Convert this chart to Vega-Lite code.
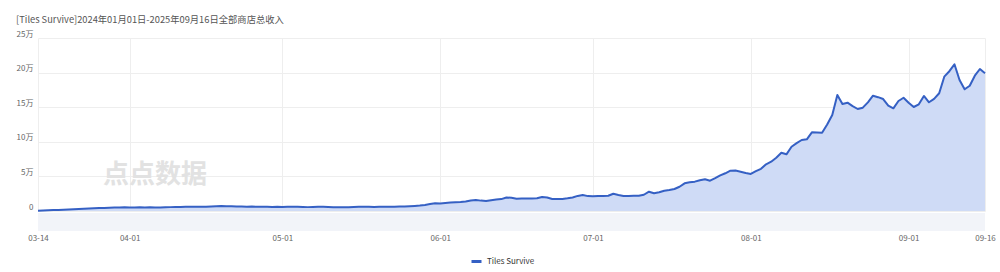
{
  "$schema": "https://vega.github.io/schema/vega-lite/v6.json",
  "background": "white",
  "padding": {"left": 16, "top": 15, "right": 5, "bottom": 5},
  "config": {"font": "Noto Sans CJK SC", "view": {"stroke": null}},
  "title": {"text": "[Tiles Survive]2024年01月01日-2025年09月16日全部商店总收入", "anchor": "start", "frame": "bounds", "fontSize": 9.3, "fontWeight": "normal", "color": "#555555", "offset": 5},
  "data": {"values": [
    {"date":"2025-03-14","value":500},{"date":"2025-03-15","value":800},{"date":"2025-03-16","value":1000},{"date":"2025-03-17","value":1300},{"date":"2025-03-18","value":1500},{"date":"2025-03-19","value":1800},{"date":"2025-03-20","value":2200},{"date":"2025-03-21","value":2500},{"date":"2025-03-22","value":2900},{"date":"2025-03-23","value":3200},{"date":"2025-03-24","value":3500},{"date":"2025-03-25","value":3900},{"date":"2025-03-26","value":4200},{"date":"2025-03-27","value":4400},{"date":"2025-03-28","value":4800},{"date":"2025-03-29","value":5100},{"date":"2025-03-30","value":5000},{"date":"2025-03-31","value":5300},
    {"date":"2025-04-01","value":5200},{"date":"2025-04-02","value":5000},{"date":"2025-04-03","value":5300},{"date":"2025-04-04","value":5100},{"date":"2025-04-05","value":5400},{"date":"2025-04-06","value":5200},{"date":"2025-04-07","value":5000},{"date":"2025-04-08","value":5300},{"date":"2025-04-09","value":5600},{"date":"2025-04-10","value":5800},{"date":"2025-04-11","value":5900},{"date":"2025-04-12","value":6100},{"date":"2025-04-13","value":6000},{"date":"2025-04-14","value":6200},{"date":"2025-04-15","value":6300},{"date":"2025-04-16","value":6100},{"date":"2025-04-17","value":6400},{"date":"2025-04-18","value":6800},{"date":"2025-04-19","value":7100},{"date":"2025-04-20","value":6900},{"date":"2025-04-21","value":6700},{"date":"2025-04-22","value":6500},{"date":"2025-04-23","value":6600},{"date":"2025-04-24","value":6300},{"date":"2025-04-25","value":6400},{"date":"2025-04-26","value":6100},{"date":"2025-04-27","value":6000},{"date":"2025-04-28","value":6200},{"date":"2025-04-29","value":5900},{"date":"2025-04-30","value":6100},
    {"date":"2025-05-01","value":5800},{"date":"2025-05-02","value":6000},{"date":"2025-05-03","value":6300},{"date":"2025-05-04","value":6100},{"date":"2025-05-05","value":5800},{"date":"2025-05-06","value":5600},{"date":"2025-05-07","value":5900},{"date":"2025-05-08","value":6300},{"date":"2025-05-09","value":6000},{"date":"2025-05-10","value":5700},{"date":"2025-05-11","value":5500},{"date":"2025-05-12","value":5400},{"date":"2025-05-13","value":5600},{"date":"2025-05-14","value":5500},{"date":"2025-05-15","value":5700},{"date":"2025-05-16","value":6000},{"date":"2025-05-17","value":6300},{"date":"2025-05-18","value":6100},{"date":"2025-05-19","value":5900},{"date":"2025-05-20","value":6000},{"date":"2025-05-21","value":6200},{"date":"2025-05-22","value":6000},{"date":"2025-05-23","value":6300},{"date":"2025-05-24","value":6600},{"date":"2025-05-25","value":6500},{"date":"2025-05-26","value":6900},{"date":"2025-05-27","value":7300},{"date":"2025-05-28","value":7800},{"date":"2025-05-29","value":8800},{"date":"2025-05-30","value":10000},{"date":"2025-05-31","value":11200},
    {"date":"2025-06-01","value":10900},{"date":"2025-06-02","value":11600},{"date":"2025-06-03","value":12200},{"date":"2025-06-04","value":12600},{"date":"2025-06-05","value":13000},{"date":"2025-06-06","value":13700},{"date":"2025-06-07","value":15200},{"date":"2025-06-08","value":15900},{"date":"2025-06-09","value":15000},{"date":"2025-06-10","value":14400},{"date":"2025-06-11","value":15600},{"date":"2025-06-12","value":16600},{"date":"2025-06-13","value":17200},{"date":"2025-06-14","value":19500},{"date":"2025-06-15","value":19000},{"date":"2025-06-16","value":17800},{"date":"2025-06-17","value":17900},{"date":"2025-06-18","value":18100},{"date":"2025-06-19","value":18200},{"date":"2025-06-20","value":18500},{"date":"2025-06-21","value":20300},{"date":"2025-06-22","value":19400},{"date":"2025-06-23","value":17300},{"date":"2025-06-24","value":17200},{"date":"2025-06-25","value":17500},{"date":"2025-06-26","value":18300},{"date":"2025-06-27","value":19500},{"date":"2025-06-28","value":21800},{"date":"2025-06-29","value":23000},{"date":"2025-06-30","value":21500},
    {"date":"2025-07-01","value":21200},{"date":"2025-07-02","value":21500},{"date":"2025-07-03","value":21700},{"date":"2025-07-04","value":22000},{"date":"2025-07-05","value":25000},{"date":"2025-07-06","value":23200},{"date":"2025-07-07","value":21700},{"date":"2025-07-08","value":21800},{"date":"2025-07-09","value":21900},{"date":"2025-07-10","value":22000},{"date":"2025-07-11","value":23500},{"date":"2025-07-12","value":27900},{"date":"2025-07-13","value":25600},{"date":"2025-07-14","value":27000},{"date":"2025-07-15","value":29300},{"date":"2025-07-16","value":30200},{"date":"2025-07-17","value":31800},{"date":"2025-07-18","value":35000},{"date":"2025-07-19","value":40000},{"date":"2025-07-20","value":41500},{"date":"2025-07-21","value":42400},{"date":"2025-07-22","value":44500},{"date":"2025-07-23","value":45800},{"date":"2025-07-24","value":43800},{"date":"2025-07-25","value":47500},{"date":"2025-07-26","value":51500},{"date":"2025-07-27","value":54500},{"date":"2025-07-28","value":58200},{"date":"2025-07-29","value":58400},{"date":"2025-07-30","value":56800},{"date":"2025-07-31","value":54800},
    {"date":"2025-08-01","value":53500},{"date":"2025-08-02","value":57500},{"date":"2025-08-03","value":61000},{"date":"2025-08-04","value":67500},{"date":"2025-08-05","value":71200},{"date":"2025-08-06","value":77000},{"date":"2025-08-07","value":84200},{"date":"2025-08-08","value":81900},{"date":"2025-08-09","value":92900},{"date":"2025-08-10","value":98000},{"date":"2025-08-11","value":102600},{"date":"2025-08-12","value":103600},{"date":"2025-08-13","value":113700},{"date":"2025-08-14","value":113400},{"date":"2025-08-15","value":113000},{"date":"2025-08-16","value":125000},{"date":"2025-08-17","value":138700},{"date":"2025-08-18","value":167600},{"date":"2025-08-19","value":154600},{"date":"2025-08-20","value":156500},{"date":"2025-08-21","value":151500},{"date":"2025-08-22","value":147400},{"date":"2025-08-23","value":149300},{"date":"2025-08-24","value":157000},{"date":"2025-08-25","value":166600},{"date":"2025-08-26","value":164500},{"date":"2025-08-27","value":161800},{"date":"2025-08-28","value":152200},{"date":"2025-08-29","value":148400},{"date":"2025-08-30","value":159000},{"date":"2025-08-31","value":163700},
    {"date":"2025-09-01","value":156500},{"date":"2025-09-02","value":150300},{"date":"2025-09-03","value":154200},{"date":"2025-09-04","value":166200},{"date":"2025-09-05","value":157100},{"date":"2025-09-06","value":162000},{"date":"2025-09-07","value":170100},{"date":"2025-09-08","value":194100},{"date":"2025-09-09","value":202000},{"date":"2025-09-10","value":212000},{"date":"2025-09-11","value":189300},{"date":"2025-09-12","value":175900},{"date":"2025-09-13","value":181000},{"date":"2025-09-14","value":195500},{"date":"2025-09-15","value":205200},{"date":"2025-09-16","value":199000}
  ]},
  "spacing": 1,
  "vconcat": [
    {
      "width": 947,
      "height": 173,
      "encoding": {
        "x": {"field": "date", "type": "temporal",
          "scale": {"type": "utc", "domain": [{"year": 2025, "month": 3, "date": 14, "utc": true}, {"year": 2025, "month": 9, "date": 16, "utc": true}]},
          "axis": {"title": null, "labels": false, "ticks": false, "domain": false, "grid": true, "gridColor": "#eeeeee",
            "values": [{"year": 2025, "month": 3, "date": 14, "utc": true}, {"year": 2025, "month": 4, "date": 1, "utc": true}, {"year": 2025, "month": 5, "date": 1, "utc": true}, {"year": 2025, "month": 6, "date": 1, "utc": true}, {"year": 2025, "month": 7, "date": 1, "utc": true}, {"year": 2025, "month": 8, "date": 1, "utc": true}, {"year": 2025, "month": 9, "date": 1, "utc": true}, {"year": 2025, "month": 9, "date": 16, "utc": true}]}},
        "y": {"field": "value", "type": "quantitative",
          "scale": {"domain": [0, 250000], "nice": false},
          "axis": {"title": null, "values": [0, 50000, 100000, 150000, 200000, 250000], "labelExpr": "datum.value == 0 ? '0' : (datum.value / 10000) + '万'", "grid": true, "gridColor": "#eeeeee", "domain": false, "ticks": false, "labelBaseline": "bottom", "labelFontSize": 8, "labelColor": "#666666", "labelPadding": 5}}
      },
      "layer": [
        {"data": {"values": [{"date": "2025-04-06", "value": 52000, "t": "点点数据"}]},
          "mark": {"type": "text", "fontSize": 26, "fontWeight": "bold", "color": "#e2e2e2", "align": "center", "baseline": "middle"},
          "encoding": {"text": {"field": "t"}}},
        {"mark": {"type": "area", "color": "#cfdbf6", "opacity": 1}},
        {"mark": {"type": "line", "strokeWidth": 2, "strokeJoin": "round"},
          "encoding": {"color": {"datum": "Tiles Survive", "type": "nominal", "scale": {"range": ["#3560c4"]},
            "legend": {"title": null, "orient": "none", "legendX": 432, "legendY": 217, "direction": "horizontal", "symbolType": "stroke", "symbolStrokeWidth": 3, "symbolSize": 100, "labelFontSize": 8, "labelColor": "#333333"}}}}
      ]
    },
    {
      "width": 947,
      "height": 18,
      "view": {"fill": "#f2f4f9", "stroke": null},
      "mark": {"type": "rule", "opacity": 0},
      "encoding": {
        "x": {"field": "date", "type": "temporal",
          "scale": {"type": "utc", "domain": [{"year": 2025, "month": 3, "date": 14, "utc": true}, {"year": 2025, "month": 9, "date": 16, "utc": true}]},
          "axis": {"title": null, "labelExpr": "utcFormat(datum.value, '%m-%d')", "grid": false, "ticks": false, "domain": false, "labelFontSize": 8, "labelColor": "#666666", "labelPadding": 3, "labelOverlap": false, "labelFlush": false, "labelBound": false,
            "values": [{"year": 2025, "month": 3, "date": 14, "utc": true}, {"year": 2025, "month": 4, "date": 1, "utc": true}, {"year": 2025, "month": 5, "date": 1, "utc": true}, {"year": 2025, "month": 6, "date": 1, "utc": true}, {"year": 2025, "month": 7, "date": 1, "utc": true}, {"year": 2025, "month": 8, "date": 1, "utc": true}, {"year": 2025, "month": 9, "date": 1, "utc": true}, {"year": 2025, "month": 9, "date": 16, "utc": true}]}}
      }
    }
  ]
}
